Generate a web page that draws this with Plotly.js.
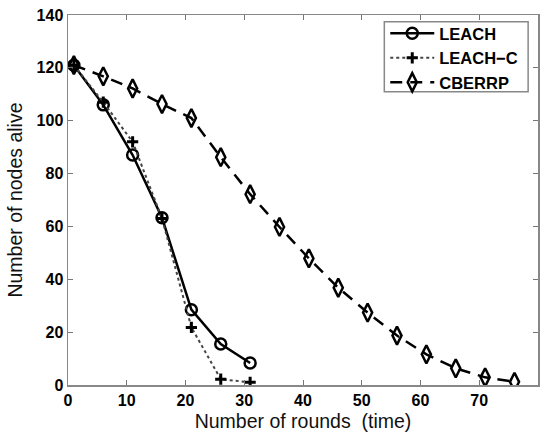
<!DOCTYPE html>
<html>
<head>
<meta charset="utf-8">
<script src="https://cdn.plot.ly/plotly-3.0.1.min.js"></script>
<style>html,body{margin:0;padding:0;background:#fff;}#chart{width:546px;height:434px;}</style>
</head>
<body>
<div id="chart"></div>
<script>
const roundsShort = [1, 6, 11, 16, 21, 26, 31];
const roundsLong = [1, 6, 11, 16, 21, 26, 31, 36, 41, 46, 51, 56, 61, 66, 71, 76];
const leach = [121, 106, 87, 63.3, 28.5, 15.5, 8.3];
const leachC = [121, 107, 92, 63, 21.8, 2.2, 1];
const cberrp = [121, 116.8, 112.2, 106.3, 101, 86.2, 72.2, 59.8, 47.9, 36.8, 27.4, 18.7, 11.6, 6.3, 2.9, 1.2];
const seriesNames = ['LEACH', 'LEACH\u2212C', 'CBERRP'];

const traces = [
  {x: roundsShort, y: leach, name: seriesNames[0], mode: 'lines+markers', type: 'scatter',
   line: {color: '#000', width: 2.5, dash: 'solid'},
   marker: {symbol: 'circle-open', size: 11, color: '#000', line: {width: 2.5, color: '#000'}}},
  {x: roundsShort, y: leachC, name: seriesNames[1], mode: 'lines+markers', type: 'scatter',
   line: {color: '#444', width: 2, dash: 'dot'},
   marker: {symbol: 'cross-thin-open', size: 8, color: '#000', line: {width: 3, color: '#000'}}},
  {x: roundsLong, y: cberrp, name: seriesNames[2], mode: 'lines+markers', type: 'scatter',
   line: {color: '#000', width: 2.5, dash: '12px,8px'},
   marker: {symbol: 'diamond-tall-open', size: 13, color: '#000', line: {width: 2.5, color: '#000'}}}
];

const tickFont = {family: 'Liberation Sans, Arial, sans-serif', size: 16, color: '#000', weight: 'bold'};
const titleFont = {family: 'Liberation Sans, Arial, sans-serif', size: 19.5, color: '#111'};
const layout = {
  width: 546, height: 434,
  margin: {l: 68, r: 8, t: 15, b: 49},
  paper_bgcolor: '#fff', plot_bgcolor: '#fff',
  showlegend: true,
  legend: {x: 0.675, y: 0.997, xanchor: 'left', yanchor: 'top',
    bgcolor: 'rgba(0,0,0,0)', borderwidth: 0,
    itemwidth: 44,
    font: {family: 'Liberation Sans, Arial, sans-serif', size: 16.5, color: '#000', weight: 'bold'},
    tracegroupgap: 0},
  shapes: [{type: 'rect', xref: 'paper', yref: 'paper', x0: 0.673, x1: 0.979, y0: 0.7927, y1: 0.982,
    line: {color: '#888', width: 1.5}, fillcolor: '#fff', layer: 'above'}],
  xaxis: {range: [0, 80], dtick: 10, tick0: 0, ticks: 'inside', ticklen: 5, tickcolor: '#777',
    showline: true, linecolor: '#888', linewidth: 1.5, mirror: 'ticks', showgrid: false, zeroline: false,
    tickfont: tickFont,
    title: {text: 'Number of rounds  (time)', font: titleFont, standoff: 6}},
  yaxis: {range: [0, 140], dtick: 20, tick0: 0, ticks: 'inside', ticklen: 5, tickcolor: '#777',
    showline: true, linecolor: '#888', linewidth: 1.5, mirror: 'ticks', showgrid: false, zeroline: false,
    tickfont: tickFont,
    title: {text: 'Number of nodes alive', font: titleFont, standoff: 9}}
};

Plotly.newPlot('chart', traces, layout, {displayModeBar: false, staticPlot: true});
</script>
</body>
</html>
